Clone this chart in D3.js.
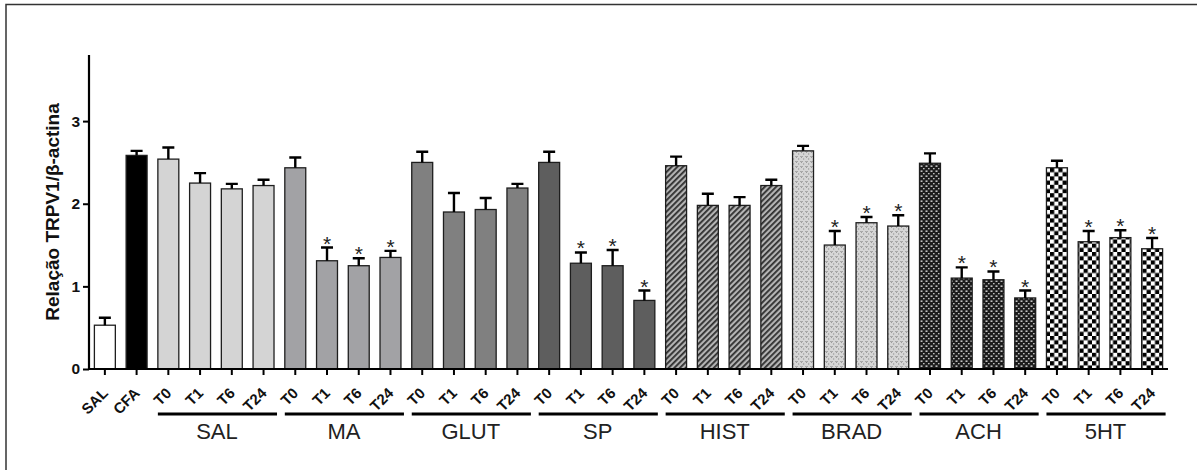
<!DOCTYPE html>
<html>
<head>
<meta charset="utf-8">
<script src="https://cdn.jsdelivr.net/npm/d3@7"></script>
<style>
  body { margin: 0; background: #fff; }
  svg { display: block; font-family: 'Liberation Sans', Arial, sans-serif; }
</style>
</head>
<body>
<script>
/* DATA: TRPV1 / beta-actin ratio */
const controlLabels = ['SAL', 'CFA'];
const controlMeans = [0.53, 2.585];
const controlSems = [0.09, 0.055];

const groups = ['SAL', 'MA', 'GLUT', 'SP', 'HIST', 'BRAD', 'ACH', '5HT'];
const times = ['T0', 'T1', 'T6', 'T24'];

// one row per group, columns follow `times`
const groupMeans = [
  [2.54, 2.25, 2.18, 2.22],
  [2.435, 1.31, 1.25, 1.35],
  [2.50, 1.90, 1.93, 2.19],
  [2.50, 1.28, 1.25, 0.83],
  [2.46, 1.98, 1.98, 2.22],
  [2.64, 1.50, 1.77, 1.73],
  [2.49, 1.10, 1.08, 0.86],
  [2.435, 1.54, 1.59, 1.455],
];
const groupSems = [
  [0.14, 0.12, 0.06, 0.07],
  [0.125, 0.16, 0.09, 0.08],
  [0.13, 0.23, 0.14, 0.05],
  [0.13, 0.13, 0.19, 0.12],
  [0.11, 0.14, 0.10, 0.07],
  [0.06, 0.17, 0.07, 0.13],
  [0.12, 0.13, 0.10, 0.09],
  [0.085, 0.13, 0.09, 0.13],
];
// groups marked with * at T1, T6, T24
const significantGroups = ['MA', 'SP', 'BRAD', 'ACH', '5HT'];
const yTicks = [0, 1, 2, 3];
const yLabel = 'Relação TRPV1/β-actina';

/* flatten into bars */
const bars = [];
controlLabels.forEach((c, i) => {
  bars.push({ key: 'ctl-' + c, label: c, group: null, value: controlMeans[i], sem: controlSems[i], fill: i === 0 ? '#ffffff' : '#000000', star: false });
});
const groupFills = {
  SAL: '#d4d4d4',
  MA: '#a2a2a5',
  GLUT: '#808080',
  SP: '#5e5e5e',
  HIST: 'url(#hatch)',
  BRAD: 'url(#dots)',
  ACH: 'url(#darkweave)',
  '5HT': 'url(#checker)',
};
groups.forEach((g, gi) => {
  times.forEach((t, ti) => {
    bars.push({
      key: g + '-' + t,
      label: t,
      group: g,
      value: groupMeans[gi][ti],
      sem: groupSems[gi][ti],
      fill: groupFills[g],
      star: ti > 0 && significantGroups.includes(g),
    });
  });
});

const W = 1197;
const H = 470;

const svg = d3.select('body')
  .append('svg')
  .attr('width', W)
  .attr('height', H);

/* patterns */
const defs = svg.append('defs');

const hatch = defs.append('pattern')
  .attr('id', 'hatch')
  .attr('patternUnits', 'userSpaceOnUse')
  .attr('width', 4)
  .attr('height', 4)
  .attr('patternTransform', 'rotate(45)');
hatch.append('rect').attr('width', 4).attr('height', 4).attr('fill', '#b4b4b4');
hatch.append('rect').attr('width', 1.8).attr('height', 4).attr('fill', '#2e2e2e');

const dots = defs.append('pattern')
  .attr('id', 'dots')
  .attr('patternUnits', 'userSpaceOnUse')
  .attr('width', 5)
  .attr('height', 5);
dots.append('rect').attr('width', 5).attr('height', 5).attr('fill', '#d6d6d6');
dots.append('path').attr('d', 'M0.5 1 L1.5 2.5 L2.5 1').attr('fill', 'none').attr('stroke', '#7a7a7a').attr('stroke-width', 0.8);
dots.append('rect').attr('x', 3).attr('y', 3.5).attr('width', 1.2).attr('height', 1).attr('fill', '#8a8a8a');

const weave = defs.append('pattern')
  .attr('id', 'darkweave')
  .attr('patternUnits', 'userSpaceOnUse')
  .attr('width', 5)
  .attr('height', 5);
weave.append('rect').attr('width', 5).attr('height', 5).attr('fill', '#1c1c1c');
weave.append('rect').attr('x', 0.5).attr('y', 0.5).attr('width', 2).attr('height', 1.3).attr('fill', '#e8e8e8');
weave.append('rect').attr('x', 3).attr('y', 3).attr('width', 1.6).attr('height', 1.3).attr('fill', '#bdbdbd');

const checker = defs.append('pattern')
  .attr('id', 'checker')
  .attr('patternUnits', 'userSpaceOnUse')
  .attr('width', 8.4)
  .attr('height', 8.4);
checker.append('rect').attr('width', 8.4).attr('height', 8.4).attr('fill', '#ffffff');
checker.append('rect').attr('width', 4.2).attr('height', 4.2).attr('fill', '#000000');
checker.append('rect').attr('x', 4.2).attr('y', 4.2).attr('width', 4.2).attr('height', 4.2).attr('fill', '#000000');

/* frame (top and left edge of the original figure box) */
svg.append('path')
  .attr('d', `M6 ${H} V4.5 H${W}`)
  .attr('fill', 'none')
  .attr('stroke', '#333')
  .attr('stroke-width', 1.5);

/* scales */
const x = d3.scaleBand()
  .domain(bars.map(d => d.key))
  .range([89, 1168])
  .paddingInner(0.34)
  .paddingOuter(0.17);

const y = d3.scaleLinear()
  .domain([0, 3.8])
  .range([369, 55]);

/* bars */
const barG = svg.append('g');
barG.selectAll('rect')
  .data(bars)
  .join('rect')
  .attr('x', d => x(d.key))
  .attr('y', d => y(d.value))
  .attr('width', x.bandwidth())
  .attr('height', d => y(0) - y(d.value))
  .attr('fill', d => d.fill)
  .attr('stroke', '#1e1e1e')
  .attr('stroke-width', 1.3);

/* error bars (upper only) */
const errG = svg.append('g')
  .attr('stroke', '#000')
  .attr('stroke-width', 2.4)
  .attr('fill', 'none');
errG.selectAll('path')
  .data(bars)
  .join('path')
  .attr('d', d => {
    const cx = x(d.key) + x.bandwidth() / 2;
    const top = y(d.value + d.sem);
    return `M${cx} ${y(d.value)} V${top} M${cx - 6} ${top} H${cx + 6}`;
  });

/* significance stars */
svg.append('g')
  .selectAll('text')
  .data(bars.filter(d => d.star))
  .join('text')
  .attr('x', d => x(d.key) + x.bandwidth() / 2)
  .attr('y', d => y(d.value + d.sem) + 3)
  .attr('text-anchor', 'middle')
  .attr('font-size', 21)
  .attr('fill', '#222')
  .text('*');

/* y axis */
const yAxis = d3.axisLeft(y)
  .tickValues(yTicks)
  .tickSize(6)
  .tickSizeOuter(0)
  .tickPadding(3)
  .tickFormat(d3.format('d'));

const yG = svg.append('g')
  .attr('transform', 'translate(89 0)')
  .call(yAxis);
yG.select('.domain').attr('stroke-width', 2.2).attr('d', `M0 ${y(3.8)} V${y(0)}`);
yG.selectAll('.tick line').attr('stroke-width', 2);
yG.selectAll('.tick text')
  .attr('font-size', 15.5)
  .attr('font-weight', 'bold')
  .attr('font-family', '"Liberation Sans", Arial, sans-serif')
  .attr('fill', '#111');

svg.append('text')
  .attr('transform', `translate(59 ${y(1.9)}) rotate(-90)`)
  .attr('text-anchor', 'middle')
  .attr('font-size', 19)
  .attr('font-weight', 'bold')
  .attr('fill', '#111')
  .text(yLabel);

/* x axis */
const xAxis = d3.axisBottom(x)
  .tickSize(6)
  .tickSizeOuter(0)
  .tickFormat(k => bars.find(b => b.key === k).label);

const xG = svg.append('g')
  .attr('transform', `translate(0 ${y(0)})`)
  .call(xAxis);
xG.select('.domain').attr('stroke-width', 2.2).attr('d', `M88 0 H1168`);
xG.selectAll('.tick line').attr('stroke-width', 2);
xG.selectAll('.tick text')
  .attr('y', 0)
  .attr('dy', 0)
  .attr('transform', 'translate(4 25) rotate(-45)')
  .attr('text-anchor', 'end')
  .attr('font-size', 15)
  .attr('font-weight', 'bold')
  .attr('font-family', '"Liberation Sans", Arial, sans-serif')
  .attr('fill', '#111');

/* group brackets and labels */
const groupG = svg.append('g');
groups.forEach(g => {
  const x0 = x(g + '-T0');
  const x1 = x(g + '-T24') + x.bandwidth();
  groupG.append('line')
    .attr('x1', x0)
    .attr('x2', x1 + 3)
    .attr('y1', 414)
    .attr('y2', 414)
    .attr('stroke', '#000')
    .attr('stroke-width', 3.2);
  groupG.append('text')
    .attr('x', (x0 + x1) / 2 + 1)
    .attr('y', 439)
    .attr('text-anchor', 'middle')
    .attr('font-size', 22)
    .attr('fill', '#222')
    .text(g);
});
</script>
</body>
</html>
